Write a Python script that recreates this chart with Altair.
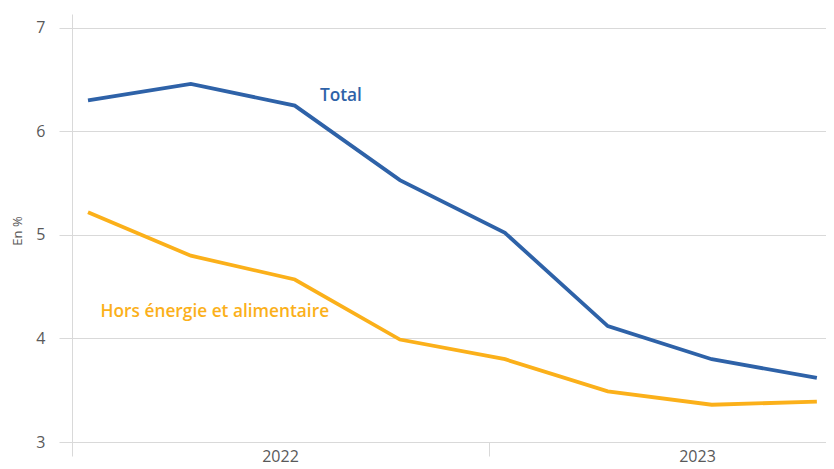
import altair as alt
import pandas as pd

# Data
dates = ["2022-01-15", "2022-04-15", "2022-07-15", "2022-10-15",
         "2023-01-15", "2023-04-15", "2023-07-15", "2023-10-15"]
total = [6.30, 6.46, 6.25, 5.53, 5.02, 4.12, 3.80, 3.62]
core = [5.22, 4.80, 4.57, 3.99, 3.80, 3.49, 3.36, 3.39]

series_names = ["Total", "Hors énergie et alimentaire"]
series_colors = ["#2E62A8", "#FBB01A"]

# Annotation labels (anchored in data coordinates)
label_text = ["Total", "Hors énergie et alimentaire"]
label_dates = ["2022-08-06", "2022-01-26"]
label_values = [6.34, 4.26]

rows = []
for d, t, c in zip(dates, total, core):
    rows.append({"date": d, "value": t, "series": "Total"})
    rows.append({"date": d, "value": c, "series": "Hors énergie et alimentaire"})
df = pd.DataFrame(rows)

labels_df = pd.DataFrame({"date": label_dates, "value": label_values,
                          "series": label_text, "text": label_text})

FONT = "Open Sans"
GRAY = "#595959"
GRID = "#d9d9d9"

x_scale = alt.Scale(type="utc",
                    domain=[alt.DateTime(year=2022, month=1, date=1, utc=True),
                            alt.DateTime(year=2023, month=10, date=23, utc=True)])
y_scale = alt.Scale(domain=[3, 7.135], nice=False, zero=False)
color_scale = alt.Scale(domain=series_names, range=series_colors)

x_axis = alt.Axis(
    values=[alt.DateTime(year=2022, month=1, date=1, utc=True),
            alt.DateTime(year=2023, month=1, date=1, utc=True)],
    format="%Y", labelOffset=208, labelFlush=False, labelOverlap=False,
    tickSize=14, tickColor=GRID, domainColor=GRID, grid=False,
    labelFontSize=16, labelColor=GRAY, labelFont=FONT, labelPadding=-8,
    title=None,
)
y_axis = alt.Axis(
    values=[3, 4, 5, 6, 7], format="d", grid=True, gridColor=GRID,
    domainColor=GRID, tickColor=GRID, tickSize=13, labelPadding=14,
    labelFontSize=16, labelColor=GRAY, labelFont=FONT,
    title="En %", titleFontSize=13, titleFontWeight="normal",
    titleColor=GRAY, titleFont=FONT, titleX=-48, titleY=216.5,
    titleAlign="center", titleBaseline="bottom", titleAngle=270,
)

lines = alt.Chart(df).mark_line(strokeWidth=3.8).encode(
    x=alt.X("date:T", scale=x_scale, axis=x_axis),
    y=alt.Y("value:Q", scale=y_scale, axis=y_axis),
    color=alt.Color("series:N", scale=color_scale, legend=None),
    detail="series:N",
)

texts = alt.Chart(labels_df).mark_text(
    align="left", baseline="middle", font=FONT, fontSize=17.3, fontWeight=600
).encode(
    x=alt.X("date:T", scale=x_scale),
    y=alt.Y("value:Q", scale=y_scale),
    text="text:N",
    color=alt.Color("series:N", scale=color_scale, legend=None),
)

chart = alt.layer(lines, texts).properties(
    width=754, height=428,
    autosize=alt.AutoSizeParams(type="none"),
    padding={"left": 64, "top": 6, "right": 0, "bottom": 25},
).configure_view(stroke=None)

chart.save("out.html", embed_options={"renderer": "svg", "actions": False})
